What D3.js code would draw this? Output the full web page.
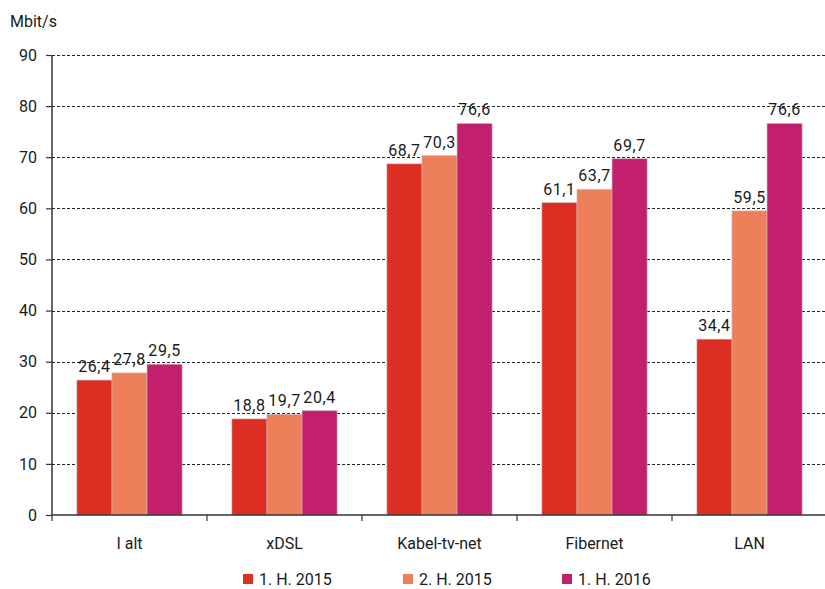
<!DOCTYPE html>
<html>
<head>
<meta charset="utf-8">
<script src="https://cdn.jsdelivr.net/npm/d3@7"></script>
<style>
  body { margin: 0; background: #fff; }
  text { font-family: Roboto, "Noto Sans", sans-serif; fill: #1a1a1a; }
</style>
</head>
<body>
<div id="chart"></div>
<script>
// Data
var categories = ["I alt", "xDSL", "Kabel-tv-net", "Fibernet", "LAN"];
var seriesNames = ["1. H. 2015", "2. H. 2015", "1. H. 2016"];
var h1_2015 = [26.4, 18.8, 68.7, 61.1, 34.4];
var h2_2015 = [27.8, 19.7, 70.3, 63.7, 59.5];
var h1_2016 = [29.5, 20.4, 76.6, 69.7, 76.6];
var yTicks = [0, 10, 20, 30, 40, 50, 60, 70, 80, 90];
var colors = ["#dc2e22", "#ee7f5b", "#c2206d"];

var width = 825, height = 589;
var margin = {left: 52, right: -2, top: 55, bottom: 74};

var series = [h1_2015, h2_2015, h1_2016];
var fmt = function (v) { return d3.format(".1f")(v).replace(".", ","); };

var svg = d3.select("#chart").append("svg")
    .attr("width", width)
    .attr("height", height);

var x = d3.scaleBand()
    .domain(categories)
    .range([margin.left, width - margin.right])
    .paddingInner(0)
    .paddingOuter(0);

// inner band: three bars, each about 35px, centred in the category
var x1 = d3.scaleBand()
    .domain(d3.range(seriesNames.length))
    .range([0, x.bandwidth()])
    .paddingOuter(0.71)
    .paddingInner(0);

var y = d3.scaleLinear()
    .domain([0, 90])
    .range([height - margin.bottom, margin.top]);

// gridlines
svg.append("g")
    .selectAll("line")
    .data(yTicks.slice(1))
    .join("line")
    .attr("x1", margin.left)
    .attr("x2", width)
    .attr("y1", function (d) { return Math.round(y(d)) + 0.5; })
    .attr("y2", function (d) { return Math.round(y(d)) + 0.5; })
    .attr("stroke", "#222")
    .attr("stroke-width", 1)
    .attr("stroke-dasharray", "3,2");

// bars
var groups = svg.append("g")
    .selectAll("g")
    .data(categories)
    .join("g")
    .attr("transform", function (d) { return "translate(" + x(d) + ",0)"; });

groups.selectAll("rect")
    .data(function (d, i) { return series.map(function (s, k) { return {k: k, v: s[i]}; }); })
    .join("rect")
    .attr("x", function (d) { return x1(d.k); })
    .attr("width", x1.bandwidth())
    .attr("y", function (d) { return y(d.v); })
    .attr("height", function (d) { return y(0) - y(d.v); })
    .attr("fill", function (d) { return colors[d.k]; })
    .attr("stroke", "#c9b7bd")
    .attr("stroke-width", 0.6);

groups.selectAll("text.val")
    .data(function (d, i) { return series.map(function (s, k) { return {k: k, v: s[i]}; }); })
    .join("text")
    .attr("class", "val")
    .attr("x", function (d) { return x1(d.k) + x1.bandwidth() / 2; })
    .attr("y", function (d) { return y(d.v) - 8; })
    .attr("text-anchor", "middle")
    .attr("font-size", 16)
    .attr("letter-spacing", 0.6)
    .text(function (d) { return fmt(d.v); });

// y axis
var yAxis = svg.append("g")
    .attr("transform", "translate(" + margin.left + ",0)")
    .call(d3.axisLeft(y).tickValues(yTicks).tickSize(6).tickPadding(9).tickFormat(d3.format("d")));
yAxis.select(".domain").attr("stroke", "#333").attr("stroke-width", 1.5)
    .attr("d", "M0," + y(90) + "V" + y(0));
yAxis.selectAll(".tick line").attr("stroke", "#333").attr("stroke-width", 1.2);
yAxis.selectAll("text").attr("font-size", 16).style("font-family", "Roboto, sans-serif").attr("fill", "#1a1a1a");

// x axis
var xAxis = svg.append("g")
    .attr("transform", "translate(0," + y(0) + ")");
xAxis.append("line")
    .attr("x1", margin.left).attr("x2", width)
    .attr("stroke", "#333").attr("stroke-width", 1.5);
xAxis.selectAll("line.tk")
    .data(categories)
    .join("line")
    .attr("class", "tk")
    .attr("x1", function (d) { return x(d); })
    .attr("x2", function (d) { return x(d); })
    .attr("y1", 0).attr("y2", 6)
    .attr("stroke", "#333").attr("stroke-width", 1.2);
xAxis.selectAll("text")
    .data(categories)
    .join("text")
    .attr("x", function (d) { return x(d) + x.bandwidth() / 2; })
    .attr("y", 34)
    .attr("text-anchor", "middle")
    .attr("font-size", 16)
    .text(function (d) { return d; });

// unit label
svg.append("text")
    .attr("x", 10).attr("y", 27)
    .attr("font-size", 16)
    .text("Mbit/s");

// legend
var legendX = [243, 403, 562];
var legend = svg.append("g")
    .selectAll("g")
    .data(seriesNames)
    .join("g")
    .attr("transform", function (d, i) { return "translate(" + legendX[i] + ",574)"; });
legend.append("rect")
    .attr("width", 10).attr("height", 10)
    .attr("fill", function (d, i) { return colors[i]; });
legend.append("text")
    .attr("x", 16).attr("y", 11)
    .attr("font-size", 16)
    .text(function (d) { return d; });
</script>
</body>
</html>
